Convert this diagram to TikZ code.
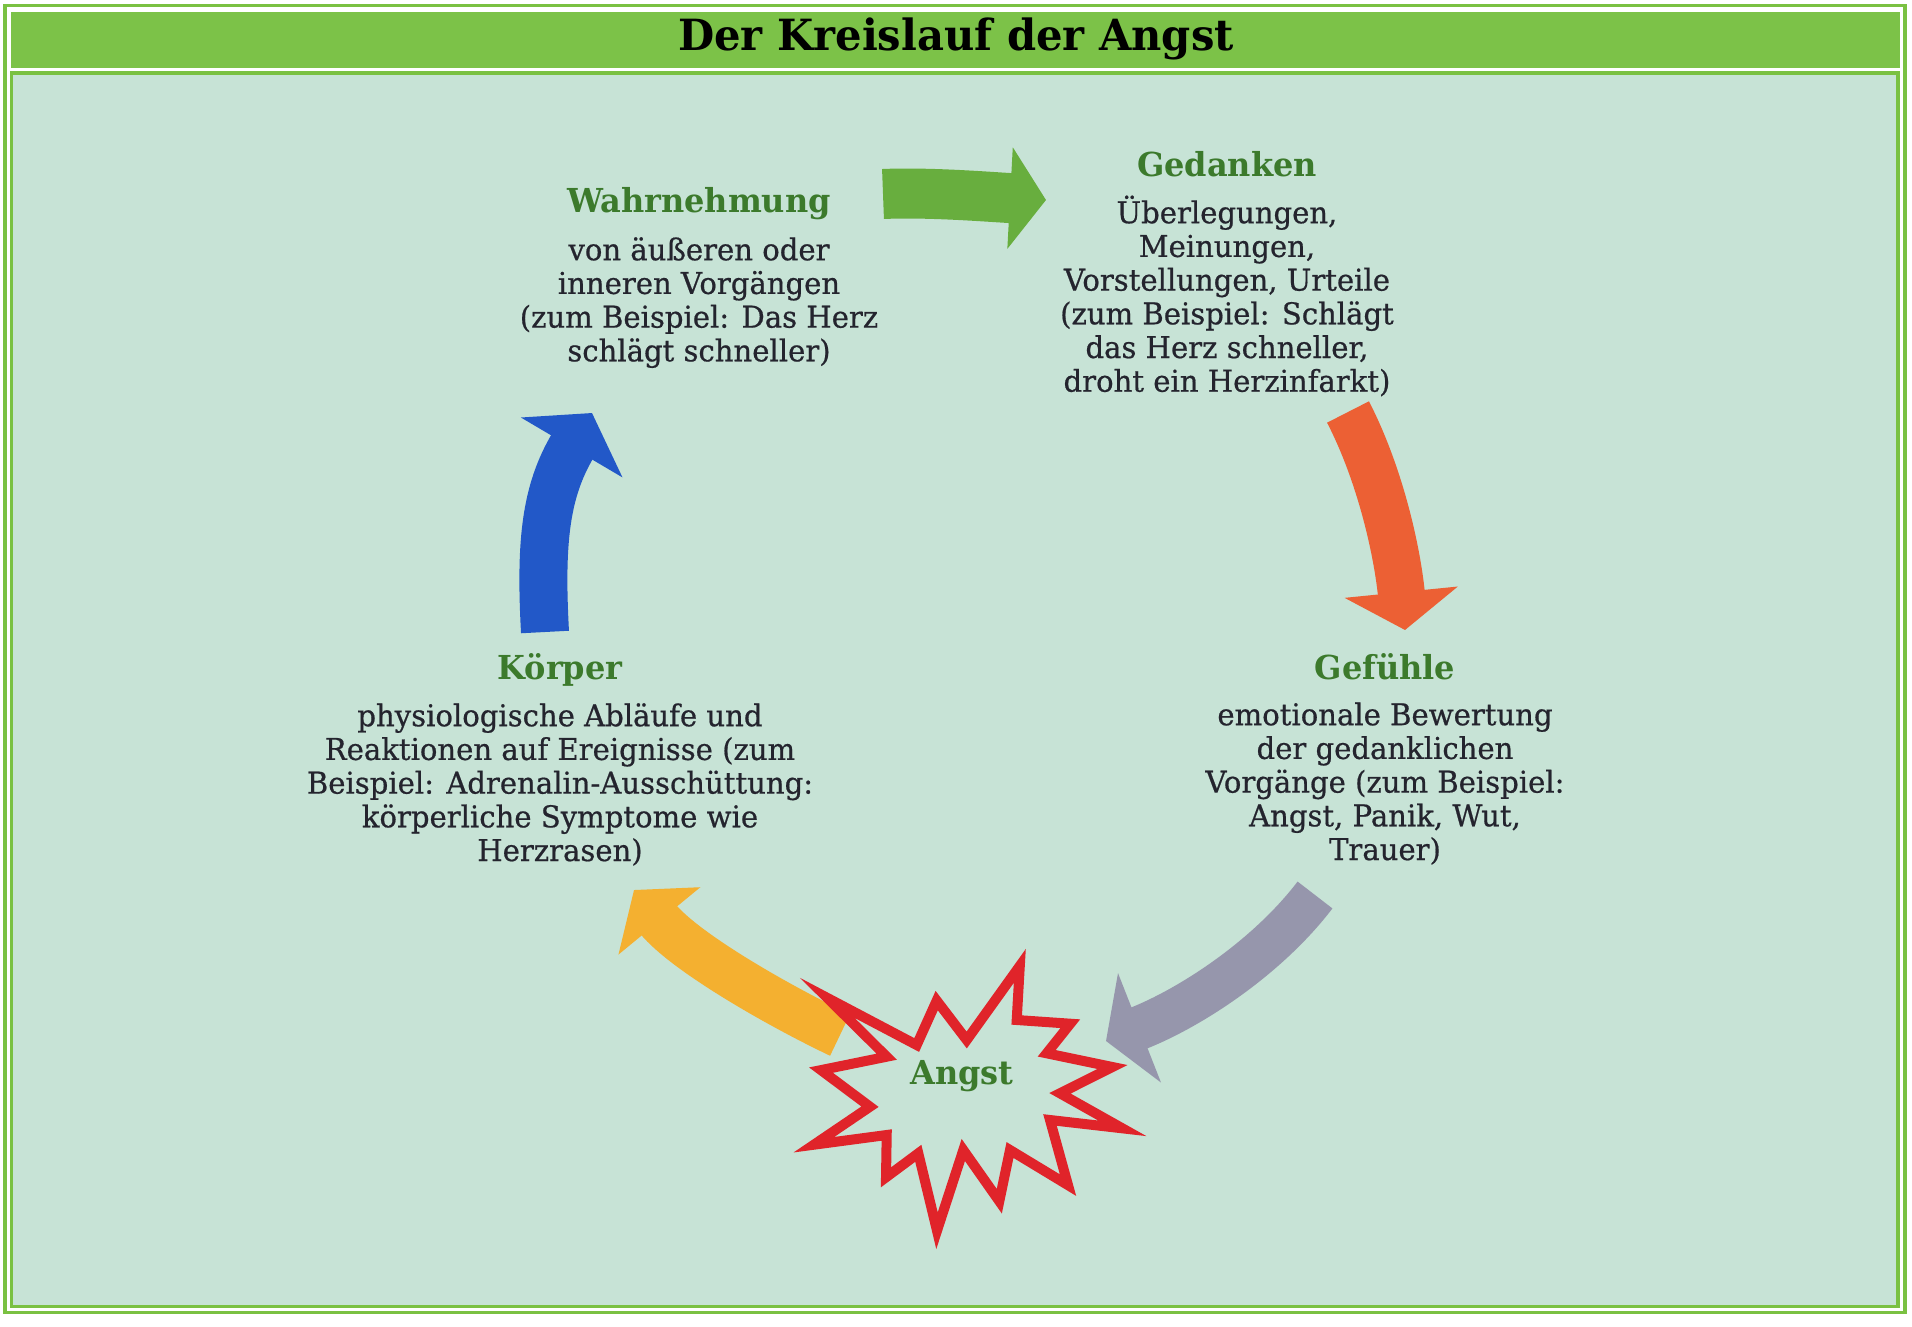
\documentclass[tikz,border=0pt]{standalone}
\usepackage{fontspec}
\setmainfont{DejaVu Serif}[FakeStretch=0.97]
\newfontfamily\bodyfam{DejaVu Serif}[FakeStretch=0.97, FakeBold=0.6]
\usetikzlibrary{arrows.meta}
\definecolor{frameg}{RGB}{122,193,66}
\definecolor{bandg}{RGB}{124,194,72}
\definecolor{bgc}{RGB}{199,227,214}
\definecolor{headg}{RGB}{60,122,44}
\definecolor{bodyc}{RGB}{36,36,46}
\definecolor{arrgreen}{RGB}{104,174,62}
\definecolor{arrblue}{RGB}{34,88,200}
\definecolor{arrorange}{RGB}{236,96,52}
\definecolor{arrgray}{RGB}{150,150,172}
\definecolor{arryellow}{RGB}{244,176,48}
\definecolor{starred}{RGB}{224,36,42}
\newcommand{\bodyf}{\bodyfam\fontsize{30}{33.7}\selectfont}
\newcommand{\headf}{\fontsize{33}{36}\selectfont\bfseries}
\newcommand{\titlef}{\fontsize{43}{46}\selectfont\bfseries}
\begin{document}
\begin{tikzpicture}[x=1pt,y=-1pt,
  head/.style={font=\headf, text=headg, inner sep=0pt, anchor=base},
  body/.style={font=\bodyf, text=bodyc, inner sep=0pt, anchor=north, align=center},
  cyclearrow/.style={line cap=butt}]
\useasboundingbox (0,0) rectangle (1912,1327);
\fill[white] (0,0) rectangle (1912,1327);
% frame
\draw[frameg, line width=3.5pt] (5,5.5) rectangle (1905,1312.5);
\fill[bandg] (11,12) rectangle (1900,68);
\fill[bgc] (11.5,73) rectangle (1898,1306.5);
\draw[frameg, line width=3.5pt] (11.5,73) rectangle (1898,1306.5);
\node[font=\titlef, text=black, inner sep=0pt, anchor=base] (title) at (956,51) {Der Kreislauf der Angst};

% text blocks
\node[head] (wahrH) at (699,212) {Wahrnehmung};
\node[body] (wahrB) at (699,230) {\rule{0pt}{30pt}von äußeren oder\\inneren Vorgängen\\(zum Beispiel: Das Herz\\schlägt schneller)};
\node[head] (gedH) at (1227,177) {Gedanken};
\node[body] (gedB) at (1227,193) {\rule{0pt}{30pt}Überlegungen,\\Meinungen,\\Vorstellungen, Urteile\\(zum Beispiel: Schlägt\\das Herz schneller,\\droht ein Herzinfarkt)};
\node[head] (gefH) at (1385,679) {Gefühle};
\node[body] (gefB) at (1385,695) {\rule{0pt}{30pt}emotionale Bewertung\\der gedanklichen\\Vorgänge (zum Beispiel:\\Angst, Panik, Wut,\\Trauer)};
\node[head] (korH) at (560,679) {Körper};
\node[body] (korB) at (560,696) {\rule{0pt}{30pt}physiologische Abläufe und\\Reaktionen auf Ereignisse (zum\\Beispiel: Adrenalin-Ausschüttung:\\körperliche Symptome wie\\Herzrasen)};

% arrow end points
\coordinate (g1) at (883,194);  \coordinate (g2) at (1046,200);
\coordinate (o1) at (1348,412); \coordinate (o2) at (1405,630);
\coordinate (y1) at (1315,895); \coordinate (y2) at (1106,1041);
\coordinate (k1) at (840,1035); \coordinate (k2) at (634,890);
\coordinate (b1) at (545,632);  \coordinate (b2) at (592,413);

\draw[cyclearrow, arrgreen, line width=50pt, -{Triangle[length=36pt,width=100pt]}]
  (g1) .. controls (930,192) and (990,197) .. (g2);
\draw[cyclearrow, arrorange, line width=47pt, -{Triangle[length=38pt,width=112pt]}]
  (o1) .. controls (1380,474) and (1397,550) .. (o2);
\draw[cyclearrow, arryellow, line width=46pt, -{Triangle[length=40pt,width=104pt]}]
  (k1) .. controls (777,1005) and (685,952) .. (k2);
\draw[cyclearrow, arrblue, line width=48pt, -{Triangle[length=40pt,width=116pt]}]
  (b1) .. controls (540,540) and (546,491) .. (b2);

% star
\draw[starred, fill=bgc, line width=10pt, line join=miter]
  (1019.8,965.9) -- (1016.7,1020) -- (1070.3,1023.7) -- (1046.7,1053.3)
  -- (1112.4,1067) -- (1060,1093.3) -- (1122.3,1128.3) -- (1050,1120)
  -- (1068,1185.1) -- (1010,1150) -- (999.3,1201.2) -- (963.3,1150)
  -- (937,1230.7) -- (918.3,1153.3) -- (886,1177.3) -- (886.7,1135)
  -- (813.9,1144.7) -- (870,1106.7) -- (821,1070.1) -- (886.7,1056.7)
  -- (827.3,997.9) -- (916.7,1045) -- (936.7,1000.6) -- (966.7,1040) -- cycle;
\node[head] (angst) at (962,1084) {Angst};

\draw[cyclearrow, arrgray, line width=44pt, -{Triangle[length=36pt,width=116pt]}]
  (y1) .. controls (1267,958) and (1190,1008) .. (y2);
\end{tikzpicture}
\end{document}
